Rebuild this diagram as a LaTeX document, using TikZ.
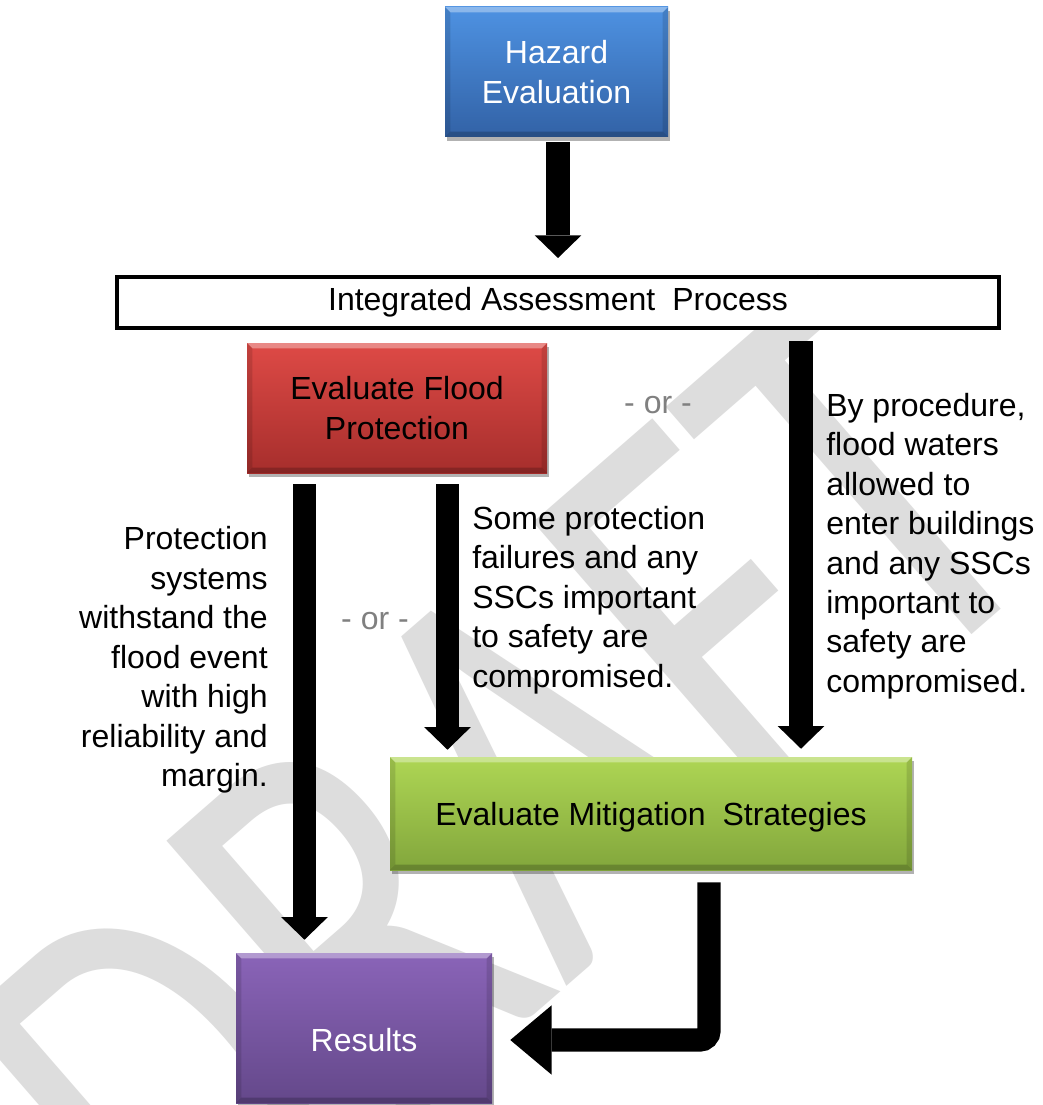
\documentclass[tikz,border=0pt]{standalone}
\usepackage{fontspec}
\setmainfont{Liberation Sans}
\newfontfamily\wmfont{Carlito}
\usetikzlibrary{arrows.meta,shadows,calc}

\definecolor{blueTop}{RGB}{78,146,226}
\definecolor{blueBot}{RGB}{50,98,166}
\definecolor{redTop}{RGB}{222,74,70}
\definecolor{redBot}{RGB}{166,46,44}
\definecolor{greenTop}{RGB}{174,214,84}
\definecolor{greenBot}{RGB}{130,166,60}
\definecolor{purpleTop}{RGB}{138,100,184}
\definecolor{purpleBot}{RGB}{100,72,138}
\definecolor{orGray}{RGB}{128,128,128}
\definecolor{wmGray}{RGB}{221,221,221}

\tikzset{
  % gradient box with a light top edge and darker sides and bottom
  bevelbox/.style={draw=none, inner sep=0pt, align=center,
    font=\fontsize{24}{30}\selectfont,
    drop shadow={shadow xshift=1.5pt, shadow yshift=-3pt, opacity=0.3, fill=black},
    path picture={
      \path (path picture bounding box.south west) coordinate (pp-sw)
            (path picture bounding box.north east) coordinate (pp-ne);
      \fill[white,opacity=0.35] (pp-sw |- pp-ne) -- (pp-ne) -- ([shift={(-4pt,-4pt)}]pp-ne)
        -- ([shift={(4pt,-4pt)}]pp-sw |- pp-ne) -- cycle;
      \fill[black,opacity=0.12] (pp-sw) -- (pp-sw |- pp-ne) -- ([shift={(4pt,-4pt)}]pp-sw |- pp-ne)
        -- ([shift={(4pt,4pt)}]pp-sw) -- cycle;
      \fill[black,opacity=0.12] (pp-ne) -- (pp-ne |- pp-sw) -- ([shift={(-4pt,4pt)}]pp-ne |- pp-sw)
        -- ([shift={(-4pt,-4pt)}]pp-ne) -- cycle;
      \fill[black,opacity=0.2] (pp-sw) -- (pp-ne |- pp-sw) -- ([shift={(-4pt,4pt)}]pp-ne |- pp-sw)
        -- ([shift={(4pt,4pt)}]pp-sw) -- cycle;
    }},
  bluebox/.style={bevelbox, top color=blueTop, bottom color=blueBot, text=white},
  redbox/.style={bevelbox, top color=redTop, bottom color=redBot, text=black},
  greenbox/.style={bevelbox, top color=greenTop, bottom color=greenBot, text=black},
  purplebox/.style={bevelbox, top color=purpleTop, bottom color=purpleBot, text=white},
  framebox/.style={draw=black, line width=3pt, fill=white, inner sep=0pt,
    font=\fontsize{24}{30}\selectfont},
  bigarrow/.style={draw=black, line width=17.5pt,
    -{Triangle[width=35pt,length=17pt,line width=0pt]}},
  widearrow/.style={draw=black, line width=17.5pt,
    -{Triangle[width=52pt,length=31pt,line width=0pt]}},
  note/.style={inner sep=0pt, font=\fontsize{24}{29.6}\selectfont},
  ornote/.style={inner sep=0pt, text=orGray, font=\fontsize{24}{29.6}\selectfont},
}

\begin{document}
\begin{tikzpicture}[x=0.75pt, y=-0.75pt]
\useasboundingbox (0,0) rectangle (1042,1105);
\fill[white] (0,0) rectangle (1042,1105);

% watermark behind everything, condensed and set on the diagonal
\begin{scope}
  \clip (0,0) rectangle (1042,1105);
  \begin{scope}[shift={(504,795)}, rotate=41, xscale=0.75]
    \node[inner sep=0pt, transform shape, text=wmGray,
      font=\wmfont\fontsize{435}{435}\selectfont] (wm) at (0,0) {DRAFT};
  \end{scope}
\end{scope}

% boxes
\node[bluebox, minimum width=167.25pt, minimum height=97.5pt] (haz) at (556.5,72)
  {Hazard\\Evaluation};
\node[framebox, minimum width=661.5pt, minimum height=38.25pt] (iap) at (558,302.5)
  {Integrated Assessment\hspace{0.25em} Process};
\node[redbox, minimum width=225pt, minimum height=97.5pt] (red) at (397,408)
  {Evaluate Flood\\Protection};
\node[greenbox, minimum width=391.5pt, minimum height=84.75pt,
  text height=23.5pt, text depth=5pt] (green) at (651,813.5)
  {Evaluate Mitigation\hspace{0.25em} Strategies};
\node[purplebox, minimum width=192pt, minimum height=112.5pt,
  text height=35pt, text depth=0pt] (res) at (364,1028)
  {Results};

% arrow columns
\coordinate (colA) at (558,0);
\coordinate (colL) at (304.5,0);
\coordinate (colM) at (447.5,0);
\coordinate (colR) at (801,0);
\coordinate (colB) at (709,0);

% connectors
\draw[bigarrow, shorten <=3.75pt, shorten >=12.75pt] (haz.south -| colA) -- (iap.north -| colA);
\draw[bigarrow, shorten <=8.25pt, shorten >=9.75pt] (red.south -| colL) -- (res.north -| colL);
\draw[bigarrow, shorten <=8.25pt, shorten >=5.25pt] (red.south -| colM) -- (green.north -| colM);
\draw[bigarrow, shorten <=8.25pt, shorten >=6pt] (iap.south -| colR) -- (green.north -| colR);
\draw[widearrow, rounded corners=7pt, shorten <=9pt, shorten >=13.5pt]
  (green.south -| colB) |- ([yshift=-9pt]res.east);

% labels
\node[note, anchor=east, align=right] (lblL) at (268,660)
  {Protection\\systems\\withstand the\\flood event\\with high\\reliability and\\margin.};
\node[note, anchor=west, align=left] (lblM) at (472,600)
  {Some protection\\failures and any\\SSCs important\\to safety are\\compromised.};
\node[note, anchor=west, align=left] (lblR) at (826,546)
  {By procedure,\\flood waters\\allowed to\\enter buildings\\and any SSCs\\important to\\safety are\\compromised.};
\node[ornote] (or1) at (658,405) {- or -};
\node[ornote] (or2) at (375,621) {- or -};
\end{tikzpicture}
\end{document}
